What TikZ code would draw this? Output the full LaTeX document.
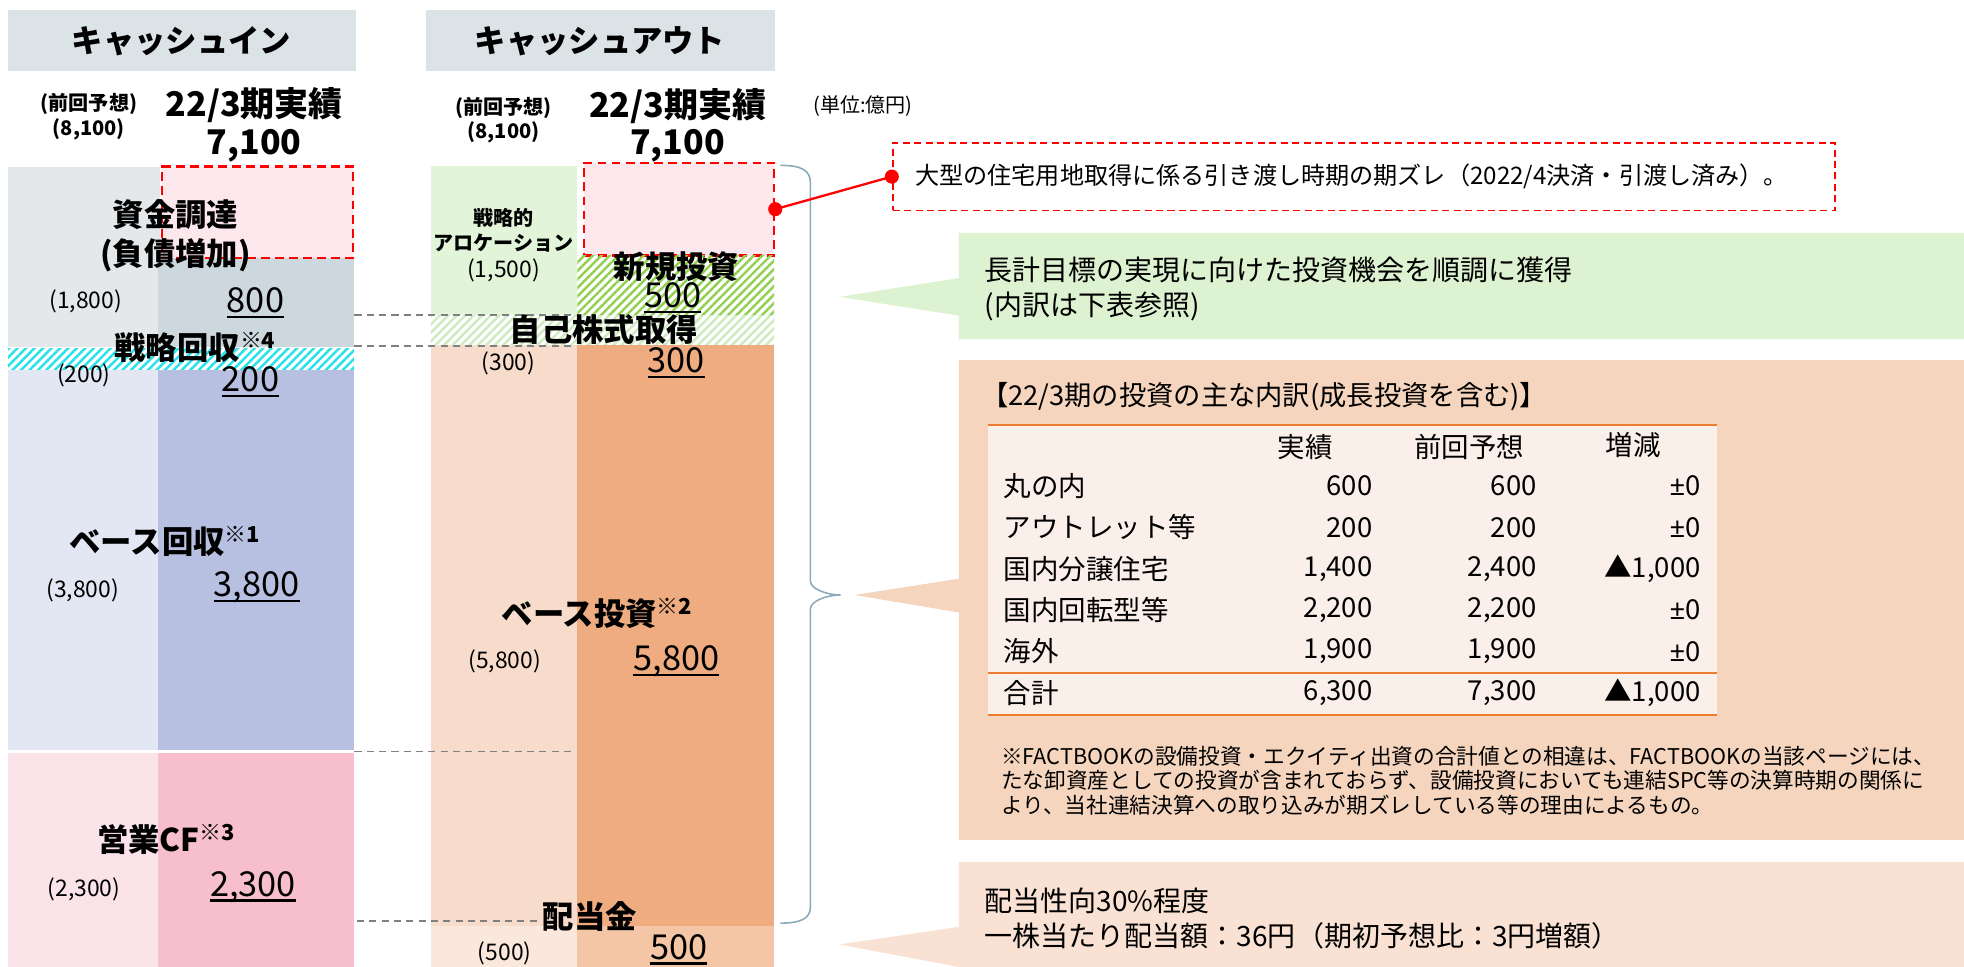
\documentclass[tikz,border=0pt]{standalone}
\usepackage{fontspec}
\setmainfont{Noto Sans CJK JP}
\newfontfamily\latinfont{Noto Sans}
\usetikzlibrary{patterns.meta}

\definecolor{hdrgray}{RGB}{220,227,230}
\definecolor{fundL}{RGB}{228,232,235}
\definecolor{fundR}{RGB}{205,215,222}
\definecolor{pinkfill}{RGB}{252,231,236}
\definecolor{cyanln}{RGB}{40,225,235}
\definecolor{baseL}{RGB}{227,230,243}
\definecolor{baseR}{RGB}{183,192,224}
\definecolor{opL}{RGB}{250,227,233}
\definecolor{opR}{RGB}{247,190,206}
\definecolor{allocL}{RGB}{226,245,217}
\definecolor{newln}{RGB}{146,208,80}
\definecolor{buyln}{RGB}{205,235,190}
\definecolor{invL}{RGB}{248,220,203}
\definecolor{invR}{RGB}{239,172,128}
\definecolor{divL}{RGB}{251,232,220}
\definecolor{divR}{RGB}{245,198,165}
\definecolor{callG}{RGB}{221,242,208}
\definecolor{callO}{RGB}{245,213,190}
\definecolor{callP}{RGB}{249,226,212}
\definecolor{tblfill}{RGB}{251,239,233}
\definecolor{tblline}{RGB}{237,125,49}
\definecolor{bracec}{RGB}{140,170,185}

\newcommand{\ulnum}[1]{\setbox0=\hbox{#1}\rlap{\rule[-0.16em]{\wd0}{0.07em}}\box0}
\newcommand{\pmz}{{\latinfont ±}0}

\begin{document}
\begin{tikzpicture}[x=0.025cm,y=-0.025cm,
    hdr/.style={font=\fontsize{17.8pt}{21pt}\selectfont\bfseries},
    lbl/.style={font=\fontsize{17.8pt}{22pt}\selectfont\bfseries,align=center},
    tot/.style={font=\fontsize{19.3pt}{22pt}\selectfont\bfseries},
    small/.style={font=\fontsize{11.4pt}{14pt}\selectfont\bfseries,align=center},
    prev/.style={font=\fontsize{13pt}{15pt}\selectfont},
    num/.style={font=\fontsize{19.5pt}{21pt}\selectfont},
    ctext/.style={font=\fontsize{15.9pt}{19.9pt}\selectfont,anchor=west,align=left,inner sep=0pt},
    cell/.style={font=\fontsize{15.6pt}{18pt}\selectfont,inner sep=0pt},
    fnote/.style={font=\fontsize{12.3pt}{13.9pt}\selectfont,anchor=west,align=left,inner sep=0pt},
    pinkbox/.style={fill=pinkfill,draw=red,line width=1.3pt,dash pattern=on 5pt off 3pt,inner sep=0pt},
    notebox/.style={draw=red,line width=1pt,dash pattern=on 4pt off 2.5pt,font=\fontsize{13.7pt}{16pt}\selectfont,anchor=west,align=left},
    gdash/.style={draw={rgb,255:red,128;green,128;blue,128},line width=1pt,dash pattern=on 4pt off 3pt},
    hatch/.style={pattern={Lines[angle=45,distance=3.4pt,line width=1.4pt]}}
  ]
  \useasboundingbox (0,0) rectangle (1568,772);

  % headers
  \fill[hdrgray] (6.5,8) rectangle (284,57);
  \fill[hdrgray] (340,8) rectangle (619,57);
  \node (hin) at (145,33) [hdr] {キャッシュイン};
  \node (hout) at (479,33) [hdr] {キャッシュアウト};

  \node (pin) at (71,93) [small] {(前回予想)\\(8,100)};
  \node (ain) at (203,84) [tot] {22/3期実績};
  \node (ain2) at (203,116) [tot] {7,100};
  \node (pout) at (402,96) [small] {(前回予想)\\(8,100)};
  \node (aout) at (541,85) [tot] {22/3期実績};
  \node (aout2) at (541,116) [tot] {7,100};
  \node (unit) at (689,85) [font=\fontsize{11.4pt}{13pt}\selectfont] {(単位:億円)};

  % cash in
  \fill[fundL] (6.5,133) rectangle (128,277);
  \fill[fundR] (126,206) rectangle (282.5,277);
  \node (fnew) at (205.75,169.5) [pinkbox,minimum width=3.81cm,minimum height=1.825cm] {};
  \fill[white] (6.5,278) rectangle (282.5,295);
  \path[hatch,pattern color=cyanln] (6.5,278) rectangle (282.5,295);
  \fill[baseL] (6.5,295) rectangle (126,599);
  \fill[baseR] (126,295) rectangle (282.5,599);
  \fill[opL] (6.5,601) rectangle (126,772);
  \fill[opR] (126,601) rectangle (282.5,772);

  % cash out
  \fill[allocL] (344,132.5) rectangle (461,251.5);
  \node (onew) at (542,167) [pinkbox,minimum width=3.8cm,minimum height=1.85cm] {};
  \path[hatch,pattern color=newln] (461,204) rectangle (618,251.5);
  \path[hatch,pattern color=buyln] (344,251.5) rectangle (618,275.5);
  \fill[invL] (344,275.5) rectangle (461,739);
  \fill[invR] (461,275.5) rectangle (618,739);
  \fill[divL] (344,739) rectangle (461,772);
  \fill[divR] (461,739) rectangle (618,772);

  % dashed guides
  \coordinate (g1) at (283,251.5);
  \coordinate (h1) at (458,251.5);
  \coordinate (g2) at (283,276);
  \coordinate (h2) at (458,276);
  \coordinate (g3) at (283,600);
  \coordinate (h3) at (458,600);
  \coordinate (g4) at (285,735);
  \coordinate (h4) at (432,735);
  \draw[gdash] (g1) -- (h1) (g2) -- (h2) (g3) -- (h3) (g4) -- (h4);

  % labels, cash in
  \node (fund) at (140,188.5) [lbl] {資金調達\\(負債増加)};
  \node (fundp) at (68.5,241) [prev] {(1,800)};
  \node (fundn) at (204,242) [num] {\ulnum{800}};
  \node (strat) at (156,277) [lbl] {戦略回収\textsuperscript{※4}};
  \node (stratp) at (67,300) [prev] {(200)};
  \node (stratn) at (200,305) [num] {\ulnum{200}};
  \node (base) at (132,432) [lbl] {ベース回収\textsuperscript{※1}};
  \node (basep) at (66,471) [prev] {(3,800)};
  \node (basen) at (205,469) [num] {\ulnum{3,800}};
  \node (op) at (133,670) [lbl] {営業CF\textsuperscript{※3}};
  \node (opp) at (67,710) [prev] {(2,300)};
  \node (opn) at (202,708) [num] {\ulnum{2,300}};

  % labels, cash out
  \node (alloc) at (402,184) [small] {戦略的\\アロケーション};
  \node (allocp) at (402,215.6) [prev] {(1,500)};
  \node (newi) at (540,213) [lbl] {新規投資};
  \node (newn) at (537,238) [num] {\ulnum{500}};
  \node (buy) at (482,263) [lbl] {自己株式取得};
  \node (buyp) at (406,290) [prev] {(300)};
  \node (buyn) at (540,290) [num] {\ulnum{300}};
  \node (inv) at (477,490) [lbl] {ベース投資\textsuperscript{※2}};
  \node (invp) at (403,528) [prev] {(5,800)};
  \node (invn) at (540,528) [num] {\ulnum{5,800}};
  \node (div) at (471,732) [lbl] {配当金};
  \node (divp) at (403,761) [prev] {(500)};
  \node (divn) at (542,758) [num] {\ulnum{500}};

  % brace
  \draw[bracec,line width=0.9pt] (623,132) .. controls (640,132) and (647,136) .. (647,146) -- (647,464)
    .. controls (647,470) and (660,475) .. (671,475) .. controls (660,475) and (647,480) .. (647,486)
    -- (647,724) .. controls (647,733) and (640,737) .. (623,737);

  % note
  \node (note) at (712,141) [notebox,minimum height=1.35cm,text width=17.9cm,inner xsep=0.45cm] {大型の住宅用地取得に係る引き渡し時期の期ズレ（2022/4決済・引渡し済み）。};
  \draw[red,line width=1.3pt] (onew.east) -- (note.west);
  \fill[red] (onew.east) circle (4pt);
  \fill[red] (note.west) circle (4pt);

  % callouts
  \fill[callG] (765.6,186) -- (1568,186) -- (1568,270.7) -- (765.6,270.7) -- (765.6,252) -- (670,237) -- (765.6,222) -- cycle;
  \node (gtxt) at (786,231) [ctext] {長計目標の実現に向けた投資機会を順調に獲得\\(内訳は下表参照)};

  \fill[callO] (765.6,287.5) -- (1568,287.5) -- (1568,670.6) -- (765.6,670.6) -- (765.6,489) -- (682,475) -- (765.6,462) -- cycle;
  \node (ttl) at (783,317) [ctext,font=\fontsize{15.5pt}{18pt}\selectfont] {【22/3期の投資の主な内訳(成長投資を含む)】};

  \fill[tblfill] (789,339) rectangle (1371,571);
  \draw[tblline,line width=1.2pt] (789,339) -- (1371,339) (789,537) -- (1371,537) (789,571) -- (1371,571);

  \node (c1) at (1042,357) [cell] {実績};
  \node (c2) at (1173,357) [cell] {前回予想};
  \node (c3) at (1304,355) [cell] {増減};

  \node (r1) at (801,388) [cell,anchor=west] {丸の内};
  \node (r1a) at (1096,388) [cell,anchor=east] {600};
  \node (r1b) at (1227,388) [cell,anchor=east] {600};
  \node (r1c) at (1358,388) [cell,anchor=east] {\pmz};
  \node (r2) at (801,421) [cell,anchor=west] {アウトレット等};
  \node (r2a) at (1096,421) [cell,anchor=east] {200};
  \node (r2b) at (1227,421) [cell,anchor=east] {200};
  \node (r2c) at (1358,421) [cell,anchor=east] {\pmz};
  \node (r3) at (801,454) [cell,anchor=west] {国内分譲住宅};
  \node (r3a) at (1096,454) [cell,anchor=east] {1,400};
  \node (r3b) at (1227,454) [cell,anchor=east] {2,400};
  \node (r3c) at (1358,454) [cell,anchor=east] {▲1,000};
  \node (r4) at (801,487) [cell,anchor=west] {国内回転型等};
  \node (r4a) at (1096,487) [cell,anchor=east] {2,200};
  \node (r4b) at (1227,487) [cell,anchor=east] {2,200};
  \node (r4c) at (1358,487) [cell,anchor=east] {\pmz};
  \node (r5) at (801,520) [cell,anchor=west] {海外};
  \node (r5a) at (1096,520) [cell,anchor=east] {1,900};
  \node (r5b) at (1227,520) [cell,anchor=east] {1,900};
  \node (r5c) at (1358,520) [cell,anchor=east] {\pmz};
  \node (r6) at (801,553) [cell,anchor=west] {合計};
  \node (r6a) at (1096,553) [cell,anchor=east] {6,300};
  \node (r6b) at (1227,553) [cell,anchor=east] {7,300};
  \node (r6c) at (1358,553) [cell,anchor=east] {▲1,000};

  \node (fn) at (799,623) [fnote] {※FACTBOOKの設備投資・エクイティ出資の合計値との相違は、FACTBOOKの当該ページには、\\たな卸資産としての投資が含まれておらず、設備投資においても連結SPC等の決算時期の関係に\\より、当社連結決算への取り込みが期ズレしている等の理由によるもの。};

  \fill[callP] (765.6,688) -- (1568,688) -- (1568,772) -- (765.6,772) -- (670,754) -- (765.6,740) -- cycle;
  \node (dtxt) at (786,733) [ctext] {配当性向30\%程度\\一株当たり配当額：36円（期初予想比：3円増額）};
\end{tikzpicture}
\end{document}
